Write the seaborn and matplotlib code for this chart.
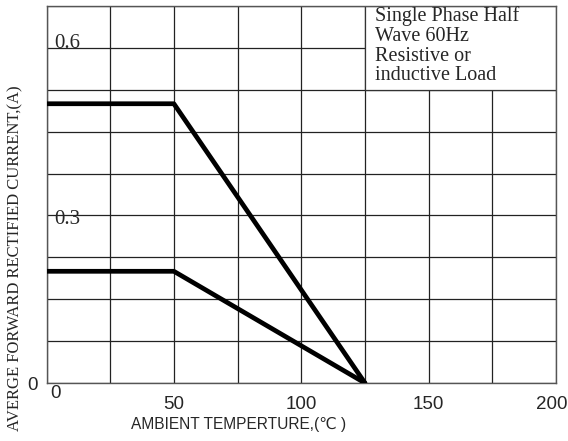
import pandas as pd
import seaborn as sns
import matplotlib.pyplot as plt
from matplotlib.patches import Rectangle
from matplotlib.transforms import ScaledTranslation

# derating curves: ambient temperature (C) vs average forward current (A)
temp_upper = [0, 50, 125]
current_upper = [0.5, 0.5, 0.0]
temp_lower = [0, 50, 125]
current_lower = [0.2, 0.2, 0.0]
x_ticks = [0, 50, 100, 150, 200]
x_tick_labels = ["0", "50", "100", "150", "200"]
y_grid_step = 0.075
y_max = 0.675
y_text_labels = ["0.6", "0.3"]
y_text_values = [0.6, 0.293]
note = "Single Phase Half\nWave 60Hz\nResistive or\ninductive Load"

df = pd.concat([
    pd.DataFrame({"temp": temp_upper, "current": current_upper, "curve": "upper"}),
    pd.DataFrame({"temp": temp_lower, "current": current_lower, "curve": "lower"}),
])

sns.set_theme(style="white")
plt.rcParams["font.family"] = ["Liberation Sans", "DejaVu Sans"]

fig = plt.figure(figsize=(5.68, 4.41), dpi=100)
ax = fig.add_axes([46.5 / 568, 58 / 441, 509.5 / 568, 377 / 441])

sns.lineplot(data=df, x="temp", y="current", hue="curve", palette=["black", "black"],
             linewidth=3.4, legend=False, ax=ax, zorder=3, solid_capstyle="round")

ax.set_xlim(0, 200)
ax.set_ylim(0, y_max)
ax.set_xticks(x_ticks)
ax.set_xticklabels(x_tick_labels, fontsize=13.5)
ax.set_xticks(range(0, 201, 25), minor=True)
ax.set_yticks([0])
ax.set_yticklabels(["0"], fontsize=13.5)
ax.set_yticks([i * y_grid_step for i in range(10)], minor=True)
ax.tick_params(which="both", length=0)
ax.tick_params(axis="x", pad=9.5)
ax.tick_params(axis="y", pad=6)
ax.grid(which="both", color="#222222", linewidth=0.9)
ax.set_axisbelow(True)
for s in ax.spines.values():
    s.set_color("#555555")
    s.set_linewidth(1.0)
ax.set_xlabel("")
ax.set_ylabel("")

# nudge the first and last x labels like the original
labs = ax.get_xticklabels()
labs[0].set_transform(labs[0].get_transform() + ScaledTranslation(9 / 100, 11 / 100, fig.dpi_scale_trans))
labs[-1].set_transform(labs[-1].get_transform() + ScaledTranslation(-4 / 100, 0, fig.dpi_scale_trans))

# note box over the upper-right cells
ax.add_patch(Rectangle((125, 7 * y_grid_step), 75, 2 * y_grid_step, facecolor="white",
                       edgecolor="#333333", linewidth=0.9, zorder=1))
ax.text(129, 0.6745, note, ha="left", va="top", fontsize=14.5, family="Liberation Serif",
        linespacing=1.05, zorder=4)

ax.text(3, y_text_values[0], y_text_labels[0], ha="left", va="baseline", fontsize=15,
        family="Liberation Serif", zorder=4)
ax.text(3, y_text_values[1], y_text_labels[1], ha="left", va="center", fontsize=15,
        family="Liberation Serif", zorder=4)

fig.text(15 / 568, 1 - 258 / 441, "AVERGE FORWARD RECTIFIED CURRENT,(A)", rotation=90,
         ha="center", va="center", fontsize=12, family="Liberation Serif")
fig.text(239 / 568, 1 - 425 / 441, "AMBIENT TEMPERTURE,(\u2103 )", ha="center", va="center",
         fontsize=11.2)

fig.savefig("out.png", dpi=100)
